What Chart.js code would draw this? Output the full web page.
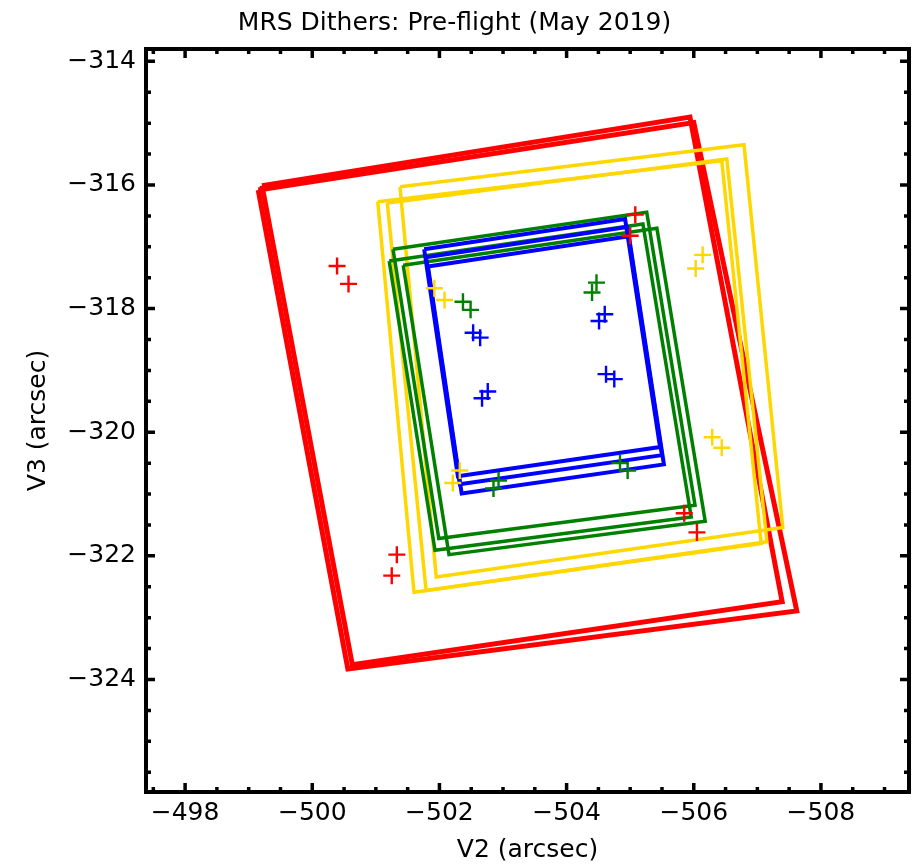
<!DOCTYPE html>
<html lang="en">
<head>
<meta charset="UTF-8" />
<title>MRS Dithers: Pre-flight (May 2019)</title>
<script src="https://cdn.jsdelivr.net/npm/chart.js"></script>
<style>
  body { margin: 0; background: #fff; overflow: hidden; }
  canvas { display: block; }
</style>
</head>
<body>
<canvas id="ditherChart" width="912" height="865"></canvas>
<script>
// axis ticks (arcsec)
const v2Ticks = [-498, -500, -502, -504, -506, -508];
const v3Ticks = [-314, -316, -318, -320, -322, -324];

// field outlines, corners as [V2, V3]
const redBoxes = [
  [[-499.15, -316.08], [-506.00, -314.99], [-507.62, -322.89], [-500.56, -323.83]],
  [[-499.21, -316.01], [-505.94, -314.90], [-507.39, -322.74], [-500.63, -323.76]]
];
const yellowBoxes = [
  [[-501.03, -316.27], [-506.44, -315.61], [-507.06, -321.80], [-501.60, -322.59]],
  [[-501.18, -316.29], [-506.52, -315.58], [-507.15, -321.77], [-501.79, -322.56]],
  [[-501.38, -316.03], [-506.79, -315.35], [-507.40, -321.54], [-501.95, -322.34]]
];
const greenBoxes = [
  [[-501.27, -317.04], [-505.26, -316.44], [-506.02, -321.18], [-501.99, -321.72]],
  [[-501.21, -317.23], [-505.20, -316.63], [-505.96, -321.37], [-501.93, -321.91]],
  [[-501.43, -317.30], [-505.42, -316.70], [-506.18, -321.44], [-502.15, -321.98]]
];
const blueBoxes = [
  [[-501.76, -317.04], [-504.92, -316.55], [-505.47, -320.24], [-502.29, -320.71]],
  [[-501.79, -317.17], [-504.95, -316.68], [-505.50, -320.37], [-502.32, -320.84]],
  [[-501.82, -317.32], [-504.98, -316.83], [-505.53, -320.52], [-502.35, -320.99]]
];

// dither positions
const redV2 = [-500.39, -500.57, -505.08, -505.00, -501.33, -501.25, -505.85, -506.05];
const redV3 = [-317.31, -317.60, -316.48, -316.82, -321.98, -322.32, -321.31, -321.62];
const yellowV2 = [-501.92, -502.08, -506.14, -506.03, -502.32, -502.21, -506.29, -506.44];
const yellowV3 = [-317.67, -317.86, -317.13, -317.35, -320.62, -320.82, -320.08, -320.25];
const greenV2 = [-502.37, -502.49, -504.47, -504.40, -502.93, -502.85, -504.84, -504.96];
const greenV3 = [-317.89, -318.02, -317.58, -317.74, -320.78, -320.91, -320.50, -320.62];
const blueV2 = [-502.53, -502.64, -504.60, -504.51, -502.67, -502.76, -504.62, -504.75];
const blueV3 = [-318.39, -318.47, -318.09, -318.20, -319.45, -319.34, -319.06, -319.14];

const RED = '#ff0000', GOLD = '#ffd700', GREEN = '#008000', BLUE = '#0000ff';

Chart.defaults.font.family = "'DejaVu Sans', sans-serif";
Chart.defaults.color = '#000';

function boxDatasets(boxes, color, width) {
  return boxes.map(b => ({
    data: b.concat([b[0]]).map(p => ({ x: p[0], y: p[1] })),
    showLine: true,
    borderColor: color,
    borderWidth: width,
    borderJoinStyle: 'miter',
    pointRadius: 0,
    tension: 0
  }));
}

function pointDataset(v2, v3, color) {
  return {
    data: v2.map((x, i) => ({ x: x, y: v3[i] })),
    showLine: false,
    pointStyle: 'cross',
    pointRadius: 8.5,
    borderWidth: 2.4,
    borderColor: color,
    backgroundColor: color
  };
}

// first dataset is drawn last (on top)
const datasets = [
  pointDataset(blueV2, blueV3, BLUE),
  pointDataset(greenV2, greenV3, GREEN),
  pointDataset(yellowV2, yellowV3, GOLD),
  pointDataset(redV2, redV3, RED),
  ...boxDatasets(blueBoxes, BLUE, 4),
  ...boxDatasets(greenBoxes, GREEN, 3.5),
  ...boxDatasets(yellowBoxes, GOLD, 3.5),
  ...boxDatasets(redBoxes, RED, 5)
];

// black frame with inward ticks on all four sides
const framePlugin = {
  id: 'frame',
  afterDraw(chart) {
    const { ctx, chartArea: a, scales: { x, y } } = chart;
    ctx.save();
    ctx.strokeStyle = '#000';
    ctx.lineWidth = 3.5;
    const tick = (val, len, horiz) => {
      if (horiz) {
        const px = x.getPixelForValue(val);
        ctx.beginPath();
        ctx.moveTo(px, a.bottom); ctx.lineTo(px, a.bottom - len);
        ctx.moveTo(px, a.top); ctx.lineTo(px, a.top + len);
        ctx.stroke();
      } else {
        const py = y.getPixelForValue(val);
        ctx.beginPath();
        ctx.moveTo(a.left, py); ctx.lineTo(a.left + len, py);
        ctx.moveTo(a.right, py); ctx.lineTo(a.right - len, py);
        ctx.stroke();
      }
    };
    for (let v = -497.5; v >= x.min; v -= 0.5) {
      tick(v, v2Ticks.includes(v) ? 9 : 5, true);
    }
    for (let v = -314; v >= y.min; v -= 0.5) {
      tick(v, v3Ticks.includes(v) ? 9 : 5, false);
    }
    ctx.lineWidth = 4;
    ctx.strokeRect(a.left, a.top, a.right - a.left, a.bottom - a.top);
    ctx.restore();
  }
};

const minusLabel = v => '\u2212' + Math.abs(v);

new Chart(document.getElementById('ditherChart').getContext('2d'), {
  type: 'scatter',
  data: { datasets: datasets },
  options: {
    responsive: false,
    animation: false,
    events: [],
    layout: { autoPadding: false, padding: { top: 5, right: 3, left: 0, bottom: 0 } },
    plugins: {
      legend: { display: false },
      tooltip: { enabled: false },
      title: {
        display: true,
        text: 'MRS Dithers: Pre-flight (May 2019)',
        font: { size: 25, weight: 'normal' },
        color: '#000',
        padding: { top: 3, bottom: 11 }
      }
    },
    scales: {
      x: {
        type: 'linear',
        reverse: true,
        min: -509.385,
        max: -497.385,
        grid: { display: false, drawTicks: false },
        border: { display: false },
        afterBuildTicks: s => { s.ticks = v2Ticks.map(v => ({ value: v })); },
        afterFit: s => { s.height = 73; },
        ticks: { font: { size: 25 }, padding: 6, callback: minusLabel, maxRotation: 0 },
        title: { display: true, text: 'V2 (arcsec)', font: { size: 25 }, padding: { top: 0, bottom: 0 } }
      },
      y: {
        type: 'linear',
        min: -325.82,
        max: -313.80,
        grid: { display: false, drawTicks: false },
        border: { display: false },
        afterBuildTicks: s => { s.ticks = v3Ticks.map(v => ({ value: v })); },
        afterFit: s => { s.width = 146; },
        ticks: { font: { size: 25 }, padding: 10, callback: minusLabel },
        title: { display: true, text: 'V3 (arcsec)', font: { size: 25 }, padding: { top: 23, bottom: 0 } }
      }
    }
  },
  plugins: [framePlugin]
});
</script>
</body>
</html>
